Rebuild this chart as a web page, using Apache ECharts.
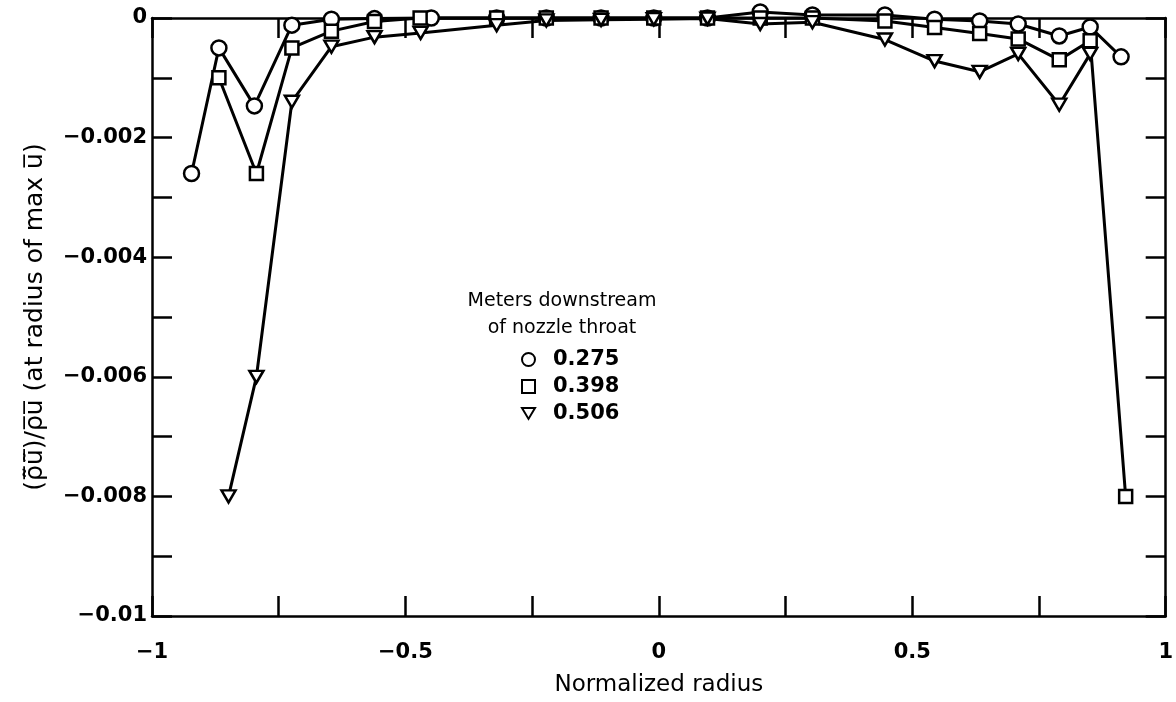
<!DOCTYPE html>
<html lang="en">
<head>
<meta charset="UTF-8">
<title>Correlation vs normalized radius</title>
<script src="https://cdn.jsdelivr.net/npm/echarts@6.0.0/dist/echarts.min.js"></script>
<style>
  html, body { margin: 0; padding: 0; background: #fff; }
  #main { width: 1176px; height: 702px; }
</style>
</head>
<body>
<div id="main"></div>
<script>
// values: normalized radius (x) and correlation (y)
var r275 = [-0.922, -0.868, -0.798, -0.724, -0.646, -0.561, -0.449, -0.320, -0.222, -0.114, -0.010, 0.096, 0.200, 0.303, 0.446, 0.544, 0.633, 0.709, 0.790, 0.851, 0.912];
var v275 = [-0.0026, -0.0005, -0.00147, -0.00012, -0.00002, -0.00001, 0, 0, 0, 0, 0, 0, 0.0001, 0.00005, 0.00005, -0.00002, -0.00005, -0.0001, -0.0003, -0.00015, -0.00065];

var r398 = [-0.868, -0.794, -0.724, -0.646, -0.561, -0.471, -0.320, -0.222, -0.114, -0.010, 0.096, 0.200, 0.303, 0.446, 0.544, 0.633, 0.709, 0.790, 0.851, 0.921];
var v398 = [-0.001, -0.0026, -0.0005, -0.00022, -0.00006, 0, 0, 0, 0, 0, 0, 0, 0, -0.00005, -0.00016, -0.00026, -0.00035, -0.0007, -0.00038, -0.008];

var r506 = [-0.849, -0.794, -0.724, -0.646, -0.561, -0.470, -0.320, -0.222, -0.114, -0.010, 0.096, 0.200, 0.303, 0.446, 0.544, 0.633, 0.709, 0.790, 0.851];
var v506 = [-0.008, -0.006, -0.0014, -0.00048, -0.00032, -0.00025, -0.00012, -0.00004, -0.00003, -0.00002, -0.00001, -0.0001, -0.00007, -0.00036, -0.00072, -0.0009, -0.0006, -0.00145, -0.0006];

var seriesNames = ['0.275', '0.398', '0.506'];
var triDown = 'path://M0,0L12,0L6,10Z';

function pairs(xs, ys) {
    return xs.map(function (x, i) { return [x, ys[i]]; });
}

var FONT = 'DejaVu Sans';

// only every other tick gets a label
function xLabel(v) {
    var k = Math.round(v / 0.5);
    if (Math.abs(v - k * 0.5) > 1e-9) return '';
    if (k === 0) return '0';
    var s = String(parseFloat(Math.abs(v).toFixed(2)));
    return v < 0 ? '\u2212' + s : s;
}
function yLabel(v) {
    if (Math.abs(v) < 1e-9) return '0';
    var k = Math.round(v / 0.002);
    if (Math.abs(v - k * 0.002) > 1e-9) return '';
    return '\u2212' + parseFloat(Math.abs(v).toFixed(4));
}

var axisLine = { show: true, onZero: false, lineStyle: { color: '#000', width: 2.5 } };
var axisTick = { show: true, inside: true, length: 20, lineStyle: { color: '#000', width: 2.5 } };

var myChart = echarts.init(document.getElementById('main'));

function lineSeries(name, data, symbol, size) {
    return {
        name: name,
        type: 'line',
        data: data,
        symbol: symbol,
        symbolSize: size,
        clip: false,
        lineStyle: { color: '#000', width: 3 },
        itemStyle: { color: '#fff', borderColor: '#000', borderWidth: 2.5 },
        emphasis: { disabled: true },
        animation: false
    };
}

var option = {
    backgroundColor: '#fff',
    animation: false,
    grid: { left: 152, right: 4, top: 18, bottom: 79 },
    xAxis: [
        {
            type: 'value', min: -1, max: 1, interval: 0.25, position: 'bottom',
            axisLine: axisLine, axisTick: axisTick, splitLine: { show: false },
            axisLabel: { formatter: xLabel, color: '#000', fontSize: 21, fontWeight: 'bold', fontFamily: FONT, margin: 26 },
            name: 'Normalized radius', nameLocation: 'middle', nameGap: 58,
            nameTextStyle: { color: '#000', fontSize: 23, fontFamily: FONT }
        },
        {
            type: 'value', min: -1, max: 1, interval: 0.25, position: 'top',
            axisLine: axisLine, axisTick: axisTick, splitLine: { show: false },
            axisLabel: { show: false }
        }
    ],
    yAxis: [
        {
            type: 'value', min: -0.01, max: 0, interval: 0.001, position: 'left',
            axisLine: axisLine, axisTick: axisTick, splitLine: { show: false },
            axisLabel: { formatter: yLabel, color: '#000', fontSize: 21, fontWeight: 'bold', fontFamily: FONT, margin: 5 },
            name: '(\u03C1\u0303\u0305u\u0303\u0305)/\u03C1\u0305u\u0305 (at radius of max u\u0305)',
            nameLocation: 'middle', nameGap: 104, nameRotate: 90,
            nameTextStyle: { color: '#000', fontSize: 25, fontFamily: FONT }
        },
        {
            type: 'value', min: -0.01, max: 0, interval: 0.001, position: 'right',
            axisLine: axisLine, axisTick: axisTick, splitLine: { show: false },
            axisLabel: { show: false }
        }
    ],
    legend: {
        orient: 'vertical',
        left: 516, top: 344,
        itemWidth: 13, itemHeight: 13, itemGap: 6,
        textStyle: { color: '#000', fontSize: 21, fontWeight: 'bold', fontFamily: FONT, padding: [0, 0, 0, 13] },
        data: [
            { name: seriesNames[0], icon: 'circle' },
            { name: seriesNames[1], icon: 'rect' },
            { name: seriesNames[2], icon: triDown }
        ],
        selectedMode: false
    },
    graphic: [
        {
            type: 'text', x: 562, y: 288,
            style: {
                text: 'Meters downstream\nof nozzle throat',
                align: 'center', fontSize: 19, fontFamily: FONT, lineHeight: 27, fill: '#000'
            }
        }
    ],
    series: [
        lineSeries(seriesNames[0], pairs(r275, v275), 'circle', 15),
        lineSeries(seriesNames[1], pairs(r398, v398), 'rect', 13),
        lineSeries(seriesNames[2], pairs(r506, v506), triDown, [14, 12])
    ]
};

myChart.setOption(option);
</script>
</body>
</html>
